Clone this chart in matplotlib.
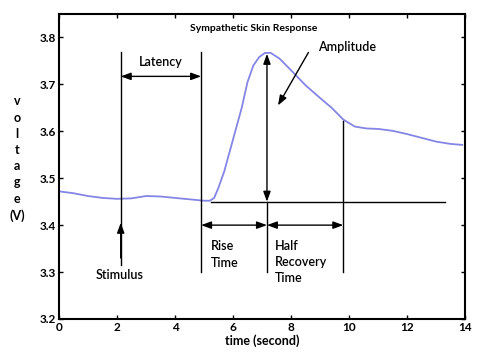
import matplotlib.pyplot as plt

plt.rcParams['font.family'] = ['Lato', 'DejaVu Sans']

# skin response trace (time in s, voltage in V)
time = [0, 0.5, 1.0, 1.5, 2.0, 2.5, 3.0, 3.5, 4.0, 4.5, 5.0, 5.2, 5.35, 5.5, 5.7,
        5.9, 6.1, 6.3, 6.5, 6.7, 6.9, 7.1, 7.3, 7.6, 8.0, 8.5, 9.0, 9.4, 9.8,
        10.2, 10.6, 11.0, 11.5, 12.0, 12.5, 13.0, 13.5, 13.9]
voltage = [3.472, 3.468, 3.462, 3.458, 3.456, 3.457, 3.462, 3.461, 3.458, 3.455,
           3.452, 3.452, 3.458, 3.48, 3.515, 3.56, 3.605, 3.65, 3.705, 3.74, 3.758,
           3.767, 3.767, 3.755, 3.73, 3.698, 3.671, 3.65, 3.625, 3.61, 3.606,
           3.605, 3.601, 3.594, 3.586, 3.578, 3.573, 3.571]

t_stim = 2.13
t_onset = 4.9
t_peak = 7.17
t_half = 9.8
v_base = 3.45
v_peak = 3.765

x_ticks = [0, 2, 4, 6, 8, 10, 12, 14]
y_ticks = [3.2, 3.3, 3.4, 3.5, 3.6, 3.7, 3.8]

fig = plt.figure(figsize=(4.83, 3.58), dpi=100)
ax = fig.add_axes([0.122, 0.109, 0.841, 0.852])

ax.plot(time, voltage, color='#8585e6', lw=1.3)

k = dict(color='black', lw=1.0)
ax.plot([t_stim, t_stim], [3.315, 3.77], **k)
ax.plot([t_onset, t_onset], [3.30, 3.77], **k)
ax.plot([t_peak, t_peak], [3.30, v_base], **k)
ax.plot([t_half, t_half], [3.30, 3.622], **k)
ax.plot([5.25, 13.3], [v_base, v_base], **k)

ap2 = dict(arrowstyle='<|-|>,head_length=0.6,head_width=0.22', color='black',
           lw=1.0, shrinkA=0, shrinkB=0)
ap1 = dict(arrowstyle='-|>,head_length=0.6,head_width=0.22', color='black',
           lw=1.0, shrinkA=0, shrinkB=0)
ax.annotate('', xy=(t_onset, 3.717), xytext=(t_stim, 3.717), arrowprops=ap2)
ax.annotate('', xy=(t_peak, v_peak), xytext=(t_peak, v_base), arrowprops=ap2)
ax.annotate('', xy=(t_peak, 3.40), xytext=(t_onset, 3.40), arrowprops=ap2)
ax.annotate('', xy=(t_half, 3.40), xytext=(t_peak, 3.40), arrowprops=ap2)
ax.annotate('', xy=(t_stim, 3.405), xytext=(t_stim, 3.33), arrowprops=ap1)
ax.annotate('', xy=(7.55, 3.655), xytext=(8.6, 3.768), arrowprops=ap1)

fs = 9
fw = 'semibold'
ax.text(6.72, 3.82, 'Sympathetic Skin Response', fontsize=7.5, fontweight='bold',
        ha='center', va='center')
ax.text(3.5, 3.747, 'Latency', fontsize=fs, fontweight=fw, ha='center', va='center')
ax.text(8.93, 3.78, 'Amplitude', fontsize=fs, fontweight=fw, ha='left', va='center')
ax.text(2.1, 3.293, 'Stimulus', fontsize=fs, fontweight=fw, ha='center', va='center')
ax.text(5.25, 3.368, 'Rise\nTime', fontsize=fs, fontweight=fw, ha='left', va='top',
        linespacing=1.45)
ax.text(7.45, 3.368, 'Half\nRecovery\nTime', fontsize=fs, fontweight=fw, ha='left',
        va='top', linespacing=1.4)

ax.set_xlim(0, 14)
ax.set_ylim(3.2, 3.85)
ax.set_xticks(x_ticks)
ax.set_yticks(y_ticks)
ax.set_xticklabels([str(v) for v in x_ticks], fontweight='bold')
ax.set_yticklabels(['%.1f' % v for v in y_ticks], fontweight='bold')
ax.tick_params(direction='in', length=3, width=1, labelsize=8.5, top=True, right=True, pad=2)
for s in ax.spines.values():
    s.set_linewidth(1.5)

ax.set_xlabel('time (second)', fontsize=9, fontweight='bold', labelpad=1)
ax.set_ylabel('v\no\nl\nt\na\ng\ne\n(V)', fontsize=9, fontweight='bold',
              rotation=0, va='center', ha='center', linespacing=1.42)
ax.yaxis.set_label_coords(-0.103, 0.526)

fig.savefig('out.png', dpi=100)
